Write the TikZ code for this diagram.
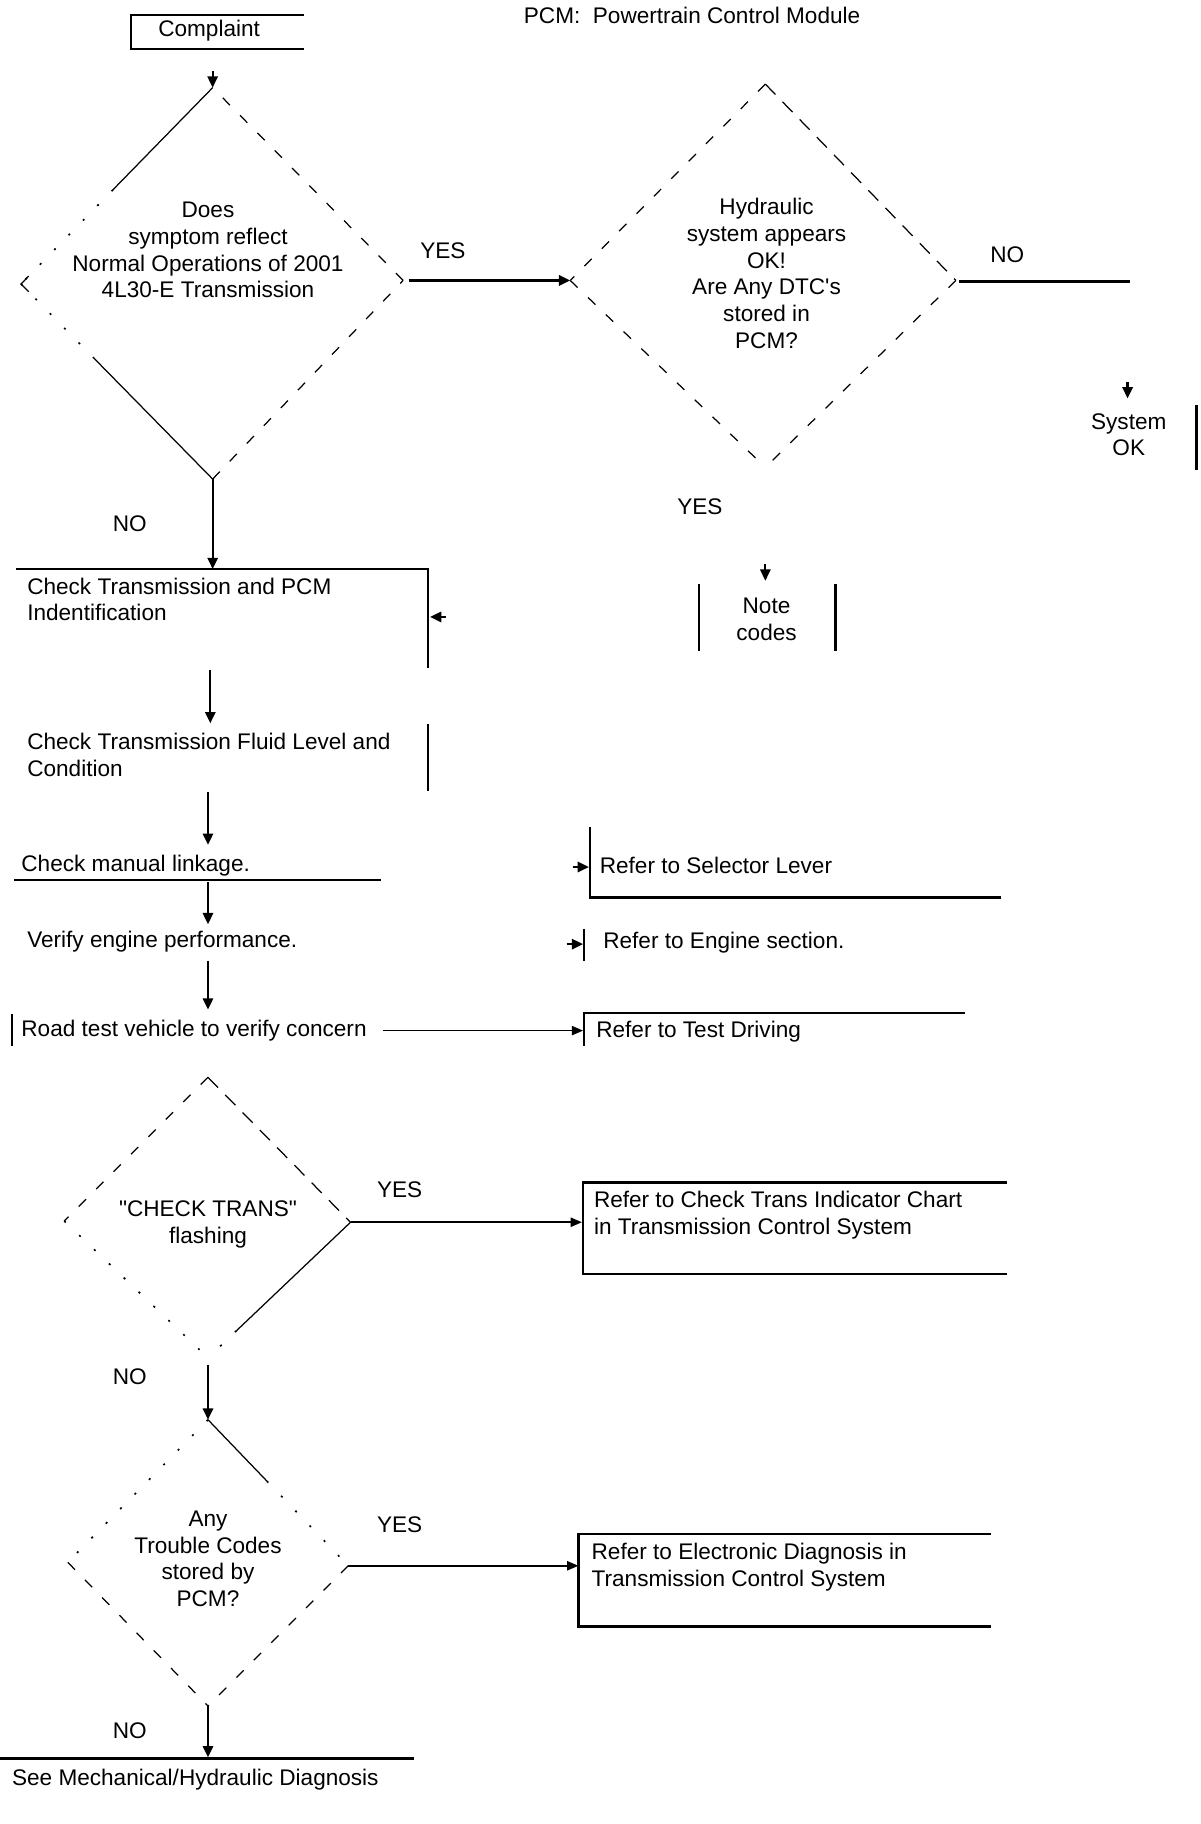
\documentclass[tikz,border=0pt]{standalone}
\usepackage{fontspec}
\setmainfont{Liberation Sans}[Ligatures=TeXOff]
\usetikzlibrary{arrows.meta,calc}
\begin{document}
\begin{tikzpicture}[x=0.02cm,y=-0.02cm,
 every node/.style={inner sep=0pt, font=\fontsize{11}{13}\selectfont},
 ln/.style={line width=1.1pt},
 tl/.style={line width=0.6pt},
 arr/.style={line width=1.1pt,-{Triangle[length=5.5pt,width=5pt]}},
 tarr/.style={line width=0.8pt,-{Triangle[length=5.5pt,width=4.5pt]}},
 dsh/.style={line width=0.6pt, dash pattern=on 5pt off 7pt},
 ldsh/.style={line width=0.6pt, dash pattern=on 7pt off 5pt},
 dotl/.style={line width=0.8pt, dash pattern=on 1pt off 9pt},
 lt/.style={anchor=west, align=left},
 ct/.style={align=center},
]
\useasboundingbox (0,0) rectangle (1027,1561);

% ---------- top ----------
\node (comp) at (179,26) {Complaint};
\draw[ln] (260,13) -- (112,13) -- (112,42) -- (260,42);
\node[lt] (pcm) at (448,13) {PCM:~ Powertrain Control Module};

% diamond 1
\coordinate (d1t) at (182,75);
\coordinate (d1l) at (18,243);
\coordinate (d1r) at (345,240);
\coordinate (d1b) at (182,410);
\coordinate (c0) at (182,61);
\draw[arr] (c0) -- (d1t);
\draw[tl] (d1t) -- ($(d1t)!0.52!(d1l)$);
\draw[dotl] ($(d1t)!0.52!(d1l)$) -- (d1l);
\draw[tl] ($(d1l)!0.04!(d1t)$) -- (d1l) -- ($(d1l)!0.04!(d1b)$);
\draw[dotl] (d1l) -- ($(d1l)!0.38!(d1b)$);
\draw[tl] ($(d1l)!0.38!(d1b)$) -- (d1b);
\draw[dsh] (d1b) -- (d1r);
\draw[dsh] (d1r) -- (d1t);
\node[ct] (q1) at (178,214) {Does\\symptom reflect\\Normal Operations of 2001\\4L30-E Transmission};

% YES to diamond 2
\coordinate (y1s) at (350,240);
\node (yes1) at (379,215) {YES};

% diamond 2
\coordinate (d2t) at (655,72);
\coordinate (d2l) at (488,240);
\coordinate (d2r) at (818,240);
\coordinate (d2b) at (655,400);
\draw[arr] (y1s) -- (d2l);
\draw[dsh] (d2t) -- (d2l);
\draw[dsh] (d2l) -- (d2b);
\draw[ldsh] (d2t) -- (d2r);
\draw[dsh] (d2r) -- (d2b);
\node[ct] (q2) at (656,234) {Hydraulic\\system appears\\OK!\\Are Any DTC's\\stored in\\PCM?};

% NO -> System OK
\coordinate (n2e) at (967,241);
\draw[ln] ($(d2r)+(3,1)$) -- (n2e);
\node (no2) at (862,218) {NO};
\coordinate (so0) at (965,327);
\coordinate (so1) at (965,341);
\draw[arr] (so0) -- (so1);
\node[ct] (sysok) at (966,372) {System\\OK};
\draw[ln] (1024,347) -- (1024,402);

% YES -> Note codes
\node (yes2) at (599,434) {YES};
\coordinate (nc0) at (655,483);
\coordinate (nc1) at (655,497);
\draw[arr] (nc0) -- (nc1);
\draw[ln] (598,500) -- (598,557);
\draw[ln] (715,500) -- (715,557);
\node[ct] (note) at (656,530) {Note\\codes};

% NO -> check steps
\node (no1) at (111,448) {NO};
\coordinate (b1t) at (182,487);
\draw[arr] (d1b) -- (b1t);
\draw[ln] (14,487) -- (366,487) -- (366,572);
\node[lt] (t1) at (23,513) {Check Transmission and PCM\\Indentification};
\coordinate (a1s) at (382,528);
\coordinate (a1e) at (368,528);
\draw[arr] (a1s) -- (a1e);

\coordinate (s2a) at (180,573);
\coordinate (s2b) at (180,619);
\draw[arr] (s2a) -- (s2b);
\node[lt] (t2) at (23,646) {Check Transmission Fluid Level and\\Condition};
\draw[ln] (366,620) -- (366,677);

\coordinate (s3a) at (178,678);
\coordinate (s3b) at (178,723);
\draw[arr] (s3a) -- (s3b);
\node[lt] (t3) at (18,741) {Check manual linkage.};
\draw[ln] (12,753) -- (326,753);

\coordinate (s4a) at (178,755);
\coordinate (s4b) at (178,791);
\draw[arr] (s4a) -- (s4b);
\node[lt] (t4) at (23,806) {Verify engine performance.};

\coordinate (s5a) at (178,822);
\coordinate (s5b) at (178,864);
\draw[arr] (s5a) -- (s5b);
\node[lt] (t5) at (18,882) {Road test vehicle to verify concern};
\draw[ln] (10,868) -- (10,895);

% right references
\draw[ln] (505,708) -- (505,768) -- (857,768);
\coordinate (r1a) at (490,742);
\coordinate (r1b) at (504,742);
\draw[arr] (r1a) -- (r1b);
\node[lt] (r1) at (513,741) {Refer to Selector Lever};

\draw[ln] (500,795) -- (500,822);
\coordinate (r2a) at (485,808);
\coordinate (r2b) at (499,808);
\draw[arr] (r2a) -- (r2b);
\node[lt] (r2) at (516,807) {Refer to Engine section.};

\draw[ln] (500,895) -- (500,867) -- (826,867);
\coordinate (r3a) at (328,882);
\coordinate (r3b) at (499,882);
\draw[tarr] (r3a) -- (r3b);
\node[lt] (r3) at (510,883) {Refer to Test Driving};

% diamond 3
\coordinate (d3t) at (178,922);
\coordinate (d3l) at (55,1045);
\coordinate (d3r) at (300,1046);
\coordinate (d3b) at (178,1162);
\draw[dsh] (d3t) -- (d3l);
\draw[ldsh] (d3t) -- (d3r);
\draw[tl] (d3r) -- ($(d3r)!0.8!(d3b)$);
\draw[dotl] ($(d3r)!0.8!(d3b)$) -- (d3b);
\draw[dotl] (d3l) -- (d3b);
\node[ct] (q3) at (178,1048) {"CHECK TRANS"\\flashing};
\node (yes3) at (342,1018) {YES};
\coordinate (e3) at (498,1046);
\draw[tarr] (d3r) -- (e3);
\draw[ln] (862,1012) -- (499,1012) -- (499,1090) -- (862,1090);
\node[lt] (r4) at (508,1040) {Refer to Check Trans Indicator Chart\\in Transmission Control System};

% diamond 4
\node (no3) at (111,1178) {NO};
\coordinate (d4s) at (178,1168);
\coordinate (d4t) at (178,1215);
\coordinate (d4l) at (58,1337);
\coordinate (d4r) at (298,1340);
\coordinate (d4b) at (178,1460);
\draw[arr] (d4s) -- (d4t);
\draw[tl] (d4t) -- ($(d4t)!0.42!(d4r)$);
\draw[dotl] ($(d4t)!0.42!(d4r)$) -- (d4r);
\draw[dotl] (d4t) -- (d4l);
\draw[dsh] (d4l) -- (d4b);
\draw[dsh] (d4r) -- (d4b);
\node[ct] (q4) at (178,1334) {Any\\Trouble Codes\\stored by\\PCM?};
\node (yes4) at (342,1305) {YES};
\coordinate (e4) at (495,1340);
\draw[tarr] (d4r) -- (e4);
\draw[ln] (848,1313) -- (495,1313) -- (495,1392) -- (848,1392);
\node[lt] (r5) at (506,1341) {Refer to Electronic Diagnosis in\\Transmission Control System};

% final
\node (no4) at (111,1481) {NO};
\coordinate (f1) at (178,1504);
\draw[arr] (d4b) -- (f1);
\draw[ln] (0,1505) -- (354,1505);
\node[lt] (t6) at (10,1523) {See Mechanical/Hydraulic Diagnosis};
\end{tikzpicture}
\end{document}
